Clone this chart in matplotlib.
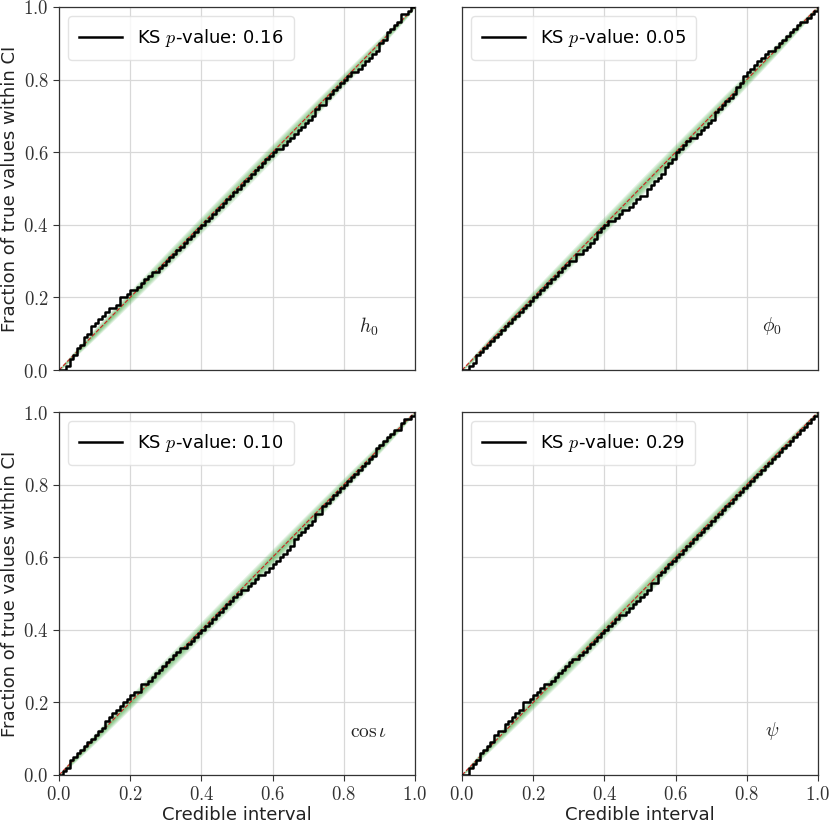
import numpy as np
import matplotlib
matplotlib.use("Agg")
import matplotlib.pyplot as plt
from matplotlib.ticker import FuncFormatter, MultipleLocator

plt.rcParams['mathtext.fontset'] = 'cm'
plt.rcParams['font.family'] = ['DejaVu Sans']

# Credible-interval grid (fraction of posterior mass)
credible_levels = np.linspace(0.0, 1.0, 101)

# Number of true values (out of 100) inside each credible interval
h0_counts = [0, 0, 1, 3, 4, 6, 7, 9, 10, 12, 13, 14, 15, 16, 17, 17, 18, 20, 20, 21,
             22, 22, 23, 24, 25, 26, 27, 27, 28, 29, 30, 31, 32, 33, 34, 35, 36, 37, 38, 39,
             40, 41, 42, 43, 44, 45, 46, 47, 48, 49, 50, 51, 52, 53, 54, 55, 56, 57, 58, 59,
             60, 61, 61, 62, 63, 64, 65, 66, 67, 68, 69, 70, 72, 73, 73, 75, 76, 77, 78, 79,
             80, 81, 82, 82, 83, 84, 85, 86, 87, 88, 90, 91, 93, 94, 95, 96, 98, 98, 99, 100,
             100]
phi0_counts = [0, 0, 1, 2, 4, 5, 6, 7, 8, 9, 10, 11, 12, 13, 14, 15, 16, 17, 18, 19,
               20, 21, 22, 23, 24, 25, 26, 27, 28, 29, 30, 30, 32, 32, 33, 34, 35, 36, 38, 39,
               40, 41, 41, 42, 43, 44, 44, 45, 46, 47, 48, 48, 50, 51, 52, 53, 54, 56, 57, 58,
               60, 61, 62, 63, 64, 64, 65, 66, 67, 68, 69, 71, 72, 73, 74, 75, 76, 78, 79, 81,
               82, 83, 84, 85, 86, 87, 88, 88, 89, 90, 91, 92, 93, 94, 95, 96, 96, 97, 98, 99,
               100]
cosi_counts = [0, 1, 2, 4, 5, 6, 7, 8, 9, 10, 11, 12, 13, 15, 16, 17, 18, 19, 20, 21,
               22, 23, 23, 25, 25, 26, 27, 28, 29, 30, 31, 32, 33, 34, 35, 35, 36, 37, 38, 39,
               40, 41, 42, 43, 44, 45, 46, 47, 48, 49, 50, 51, 51, 52, 53, 54, 55, 55, 56, 57,
               58, 59, 60, 61, 62, 63, 65, 66, 67, 68, 69, 70, 72, 72, 74, 75, 76, 77, 78, 79,
               80, 81, 82, 83, 84, 85, 86, 87, 88, 90, 91, 92, 93, 94, 95, 95, 97, 98, 98, 99,
               100]
psi_counts = [0, 0, 2, 3, 4, 6, 7, 8, 9, 11, 12, 12, 14, 15, 16, 17, 18, 20, 20, 21,
              22, 23, 24, 25, 25, 26, 27, 28, 29, 30, 31, 32, 32, 33, 34, 35, 36, 37, 38, 39,
              40, 41, 42, 43, 44, 44, 45, 46, 47, 48, 49, 50, 51, 53, 53, 55, 56, 57, 58, 59,
              60, 61, 62, 63, 64, 65, 66, 67, 68, 69, 70, 71, 72, 73, 74, 75, 76, 77, 78, 79,
              80, 81, 82, 83, 84, 85, 86, 87, 88, 89, 90, 91, 92, 93, 94, 95, 96, 97, 98, 99,
              100]
n_injections = 100

param_labels = [r'$h_0$', r'$\phi_0$', r'$\cos\iota$', r'$\psi$']
ks_pvalues = [0.16, 0.05, 0.10, 0.29]
all_counts = [h0_counts, phi0_counts, cosi_counts, psi_counts]

# Confidence band half-width scale (binomial, large reference sample)
band_sample = 2500
band_sigmas = [0.4, 0.8, 1.2, 1.6, 2.0, 2.4]

W, H = 830, 825
fig = plt.figure(figsize=(W / 100, H / 100), dpi=100)
col_left = [59 / W, 462 / W]
ax_w = 356 / W
row_bottom = [1 - 370 / H, 1 - 775 / H]
ax_h = 363 / H

fmt = FuncFormatter(lambda v, p: r'$%.1f$' % v)
for idx in range(4):
    r, c = divmod(idx, 2)
    ax = fig.add_axes([col_left[c], row_bottom[r], ax_w, ax_h])
    x = credible_levels
    sd = np.sqrt(x * (1 - x) / band_sample)
    for s in band_sigmas:
        ax.fill_between(x, x - s * sd, x + s * sd, color='#2ca02c', alpha=0.12, lw=0, zorder=1)
    ax.plot([0, 1], [0, 1], ls='--', color='#cc2020', lw=0.8, zorder=2)
    y = np.array(all_counts[idx]) / n_injections
    ax.plot(x, y, drawstyle='steps-post', color='black', lw=1.8, zorder=3,
            label=r'KS $p$-value: %.2f' % ks_pvalues[idx])
    ax.set_xlim(0, 1)
    ax.set_ylim(0, 1)
    ax.xaxis.set_major_locator(MultipleLocator(0.2))
    ax.yaxis.set_major_locator(MultipleLocator(0.2))
    ax.grid(True, color='#d8d8d8', lw=0.9)
    ax.set_axisbelow(True)
    for sp in ax.spines.values():
        sp.set_color('#333333')
        sp.set_linewidth(0.9)
    ax.tick_params(labelsize=13.5, colors='#333333', length=4, width=0.8)
    if r == 0:
        ax.tick_params(axis='x', labelbottom=False, length=0)
    else:
        ax.xaxis.set_major_formatter(fmt)
        ax.set_xlabel('Credible interval', fontsize=13, color='#222222', labelpad=1)
    if c == 1:
        ax.tick_params(axis='y', labelleft=False, length=0)
    else:
        ax.yaxis.set_major_formatter(fmt)
        ax.set_ylabel('Fraction of true values within CI', fontsize=13, color='#222222', labelpad=3)
    ax.text(0.87, 0.12, param_labels[idx], transform=ax.transAxes, fontsize=14,
            ha='center', va='center', color='#222222')
    leg = ax.legend(loc='upper left', fontsize=13, handlelength=2.4, borderpad=0.6,
                    frameon=True, fancybox=True)
    leg.get_frame().set_edgecolor('#dddddd')
    leg.get_frame().set_alpha(0.8)

fig.savefig('out.png', dpi=100)
